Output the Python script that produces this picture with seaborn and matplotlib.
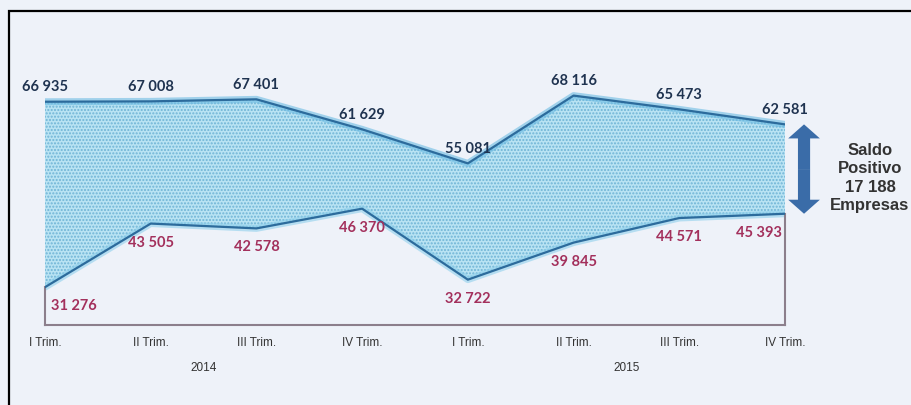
import matplotlib
matplotlib.use('Agg')
import matplotlib.pyplot as plt
from matplotlib.patches import FancyArrow, Rectangle
import seaborn as sns
import pandas as pd
import numpy as np

# Data
quarters = ['I Trim.', 'II Trim.', 'III Trim.', 'IV Trim.',
            'I Trim.', 'II Trim.', 'III Trim.', 'IV Trim.']
years = ['2014', '2015']
constituidas = [66935, 67008, 67401, 61629, 55081, 68116, 65473, 62581]
dissolvidas = [31276, 43505, 42578, 46370, 32722, 39845, 44571, 45393]

df = pd.DataFrame({'pos': np.arange(len(quarters)),
                   'upper': constituidas,
                   'lower': dissolvidas})

def fmt(v):
    return f'{v:,}'.replace(',', ' ')

bg = '#eef2f9'
sns.set_theme(style='white', rc={'axes.facecolor': bg, 'figure.facecolor': bg})
plt.rcParams['hatch.color'] = '#6fb4d6'
plt.rcParams['hatch.linewidth'] = 1.0

fig = plt.figure(figsize=(9.12, 4.06), dpi=100)
ax = fig.add_axes([45 / 912, 80 / 406, 740 / 912, 286 / 406])

# band between the two series
ax.fill_between(df['pos'], df['lower'], df['upper'], facecolor='#b9e3f3',
                edgecolor='#6fb4d6', linewidth=0, hatch='.....', zorder=1)
# soft glow along the edges
ax.plot(df['pos'], df['upper'], color='#6cbbe3', lw=5, alpha=0.6, zorder=2)
ax.plot(df['pos'], df['lower'], color='#8fd0ec', lw=5, alpha=0.6, zorder=2)
sns.lineplot(data=df, x='pos', y='upper', color='#2c6b9c', lw=1.6, ax=ax, zorder=3)
sns.lineplot(data=df, x='pos', y='lower', color='#2c6b9c', lw=1.6, ax=ax, zorder=3)

ax.set_xlim(0, len(quarters) - 1)
ax.set_ylim(24000, 79000)

# value labels
n = len(quarters)
for i, (u, l) in enumerate(zip(constituidas, dissolvidas)):
    ax.annotate(fmt(u), (i, u), xytext=(0, 11), textcoords='offset points',
                ha='center', va='center', fontsize=10.5, fontweight='bold',
                family='Lato', color='#1f3350', zorder=5)
    ha = 'left' if i == 0 else ('right' if i == n - 1 else 'center')
    dx = 4 if i == 0 else (-2 if i == n - 1 else 0)
    ax.annotate(fmt(l), (i, l), xytext=(dx, -13), textcoords='offset points',
                ha=ha, va='center', fontsize=10.5, fontweight='bold',
                family='Lato', color='#a3305c', zorder=5)

# axes frame: only below the band
ax.spines['top'].set_visible(False)
for side in ['left', 'right', 'bottom']:
    ax.spines[side].set_color('#8c7f8c')
    ax.spines[side].set_linewidth(1.5)
ax.spines['left'].set_bounds(24000, dissolvidas[0])
ax.spines['right'].set_bounds(24000, dissolvidas[-1])

ax.set_xticks(df['pos'])
ax.set_xticklabels(quarters, fontsize=8.5, color='#333333', family='Liberation Sans')
ax.tick_params(axis='x', length=0, pad=8)
ax.set_yticks([])
ax.set_xlabel('')
ax.set_ylabel('')

# year labels
for k, yr in enumerate(years):
    ax.annotate(yr, xy=(1.5 + 4 * k, 0), xycoords=('data', 'axes fraction'),
                xytext=(0, -30), textcoords='offset points', ha='center',
                va='center', fontsize=8.5, color='#333333', family='Liberation Sans')

# double arrow for the positive balance at the last quarter
x_arr = n - 1 + 0.18
mid = (constituidas[-1] + dissolvidas[-1]) / 2
for end in [constituidas[-1], dissolvidas[-1]]:
    ax.add_patch(FancyArrow(x_arr, mid, 0, end - mid, width=0.115,
                            head_width=0.30, head_length=2700,
                            length_includes_head=True, color='#3a6ca8',
                            lw=0, clip_on=False, zorder=4))

saldo = constituidas[-1] - dissolvidas[-1]
fig.text(870 / 912, 1 - 178 / 406, f'Saldo\nPositivo\n{fmt(saldo)}\nEmpresas',
         ha='center', va='center', fontsize=12, fontweight='bold',
         family='Liberation Sans', color='#333333', linespacing=1.3)

# outer frame of the picture
fig.patches.append(Rectangle((9 / 912, -0.2), 1.2, 1.2 - 12 / 406, transform=fig.transFigure,
                             fill=False, ec='black', lw=1.6, figure=fig))

fig.savefig('out.png', dpi=100, facecolor=bg)
